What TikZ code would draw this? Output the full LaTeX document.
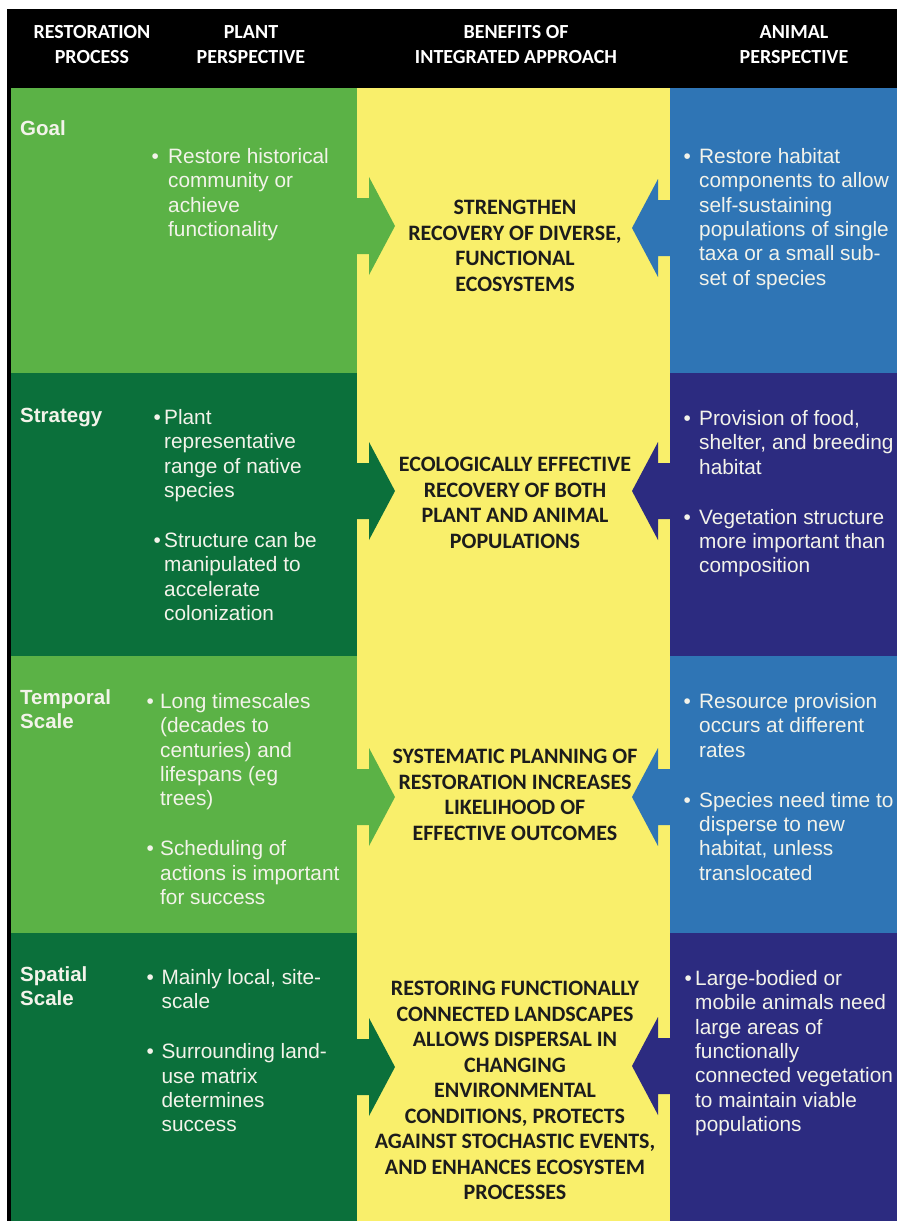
\documentclass[tikz,border=0pt]{standalone}
\usepackage{fontspec}
\setmainfont{Liberation Sans}
\newfontfamily\calfont{Carlito}
\definecolor{lgreen}{HTML}{5BB246}
\definecolor{dgreen}{HTML}{0B703B}
\definecolor{yel}{HTML}{F9EF6B}
\definecolor{lblue}{HTML}{2F75B5}
\definecolor{navy}{HTML}{2C2B80}
\definecolor{txtw}{HTML}{F3F3EA}
\definecolor{txtk}{HTML}{1C1C1C}
\newcommand\bl[1]{\makebox[#1][l]{•}}
\newcommand\ind[1]{\hspace*{#1}}
\newcommand\garrow[2]{\fill[#1] (350,#2-28) -- (369,#2-28) -- (369,#2-49) -- (395,#2) -- (369,#2+49) -- (369,#2+28) -- (350,#2+28) -- cycle;}
\newcommand\barrow[2]{\fill[#1] (677,#2-28) -- (658,#2-28) -- (658,#2-49) -- (632,#2) -- (658,#2+49) -- (658,#2+28) -- (677,#2+28) -- cycle;}
\tikzset{
  hdr/.style={text=white, font=\calfont\bfseries\fontsize{20}{25}\selectfont, align=center, inner sep=0pt, anchor=north},
  side/.style={text=txtw, font=\fontsize{20.8}{24.3}\selectfont, align=left, inner sep=0pt, anchor=north west},
  lab/.style={text=txtw, font=\bfseries\fontsize{20.5}{24}\selectfont, align=left, inner sep=0pt, anchor=north west},
  ben/.style={text=txtk, font=\calfont\bfseries\fontsize{22}{25.5}\selectfont, align=center, inner sep=0pt, anchor=north}
}
\begin{document}
\begin{tikzpicture}[x=1pt,y=-1pt]
\useasboundingbox (0,0) rectangle (897,1221);
\fill[white] (0,0) rectangle (897,1221);
\fill[black] (7,9) rectangle (897,1221);
% plant column
\fill[lgreen] (11,88) rectangle (357,373);
\fill[dgreen] (11,373) rectangle (357,656);
\fill[lgreen] (11,656) rectangle (357,933);
\fill[dgreen] (11,933) rectangle (357,1221);
% benefits column
\fill[yel] (357,88) rectangle (670,1221);
% animal column
\fill[lblue] (670,88) rectangle (897,373);
\fill[navy] (670,373) rectangle (897,656);
\fill[lblue] (670,656) rectangle (897,933);
\fill[navy] (670,933) rectangle (897,1221);
% arrows
\garrow{lgreen}{226}
\garrow{dgreen}{491}
\garrow{lgreen}{797}
\garrow{dgreen}{1067}
\barrow{lblue}{228}
\barrow{navy}{491}
\barrow{lblue}{797}
\barrow{navy}{1066}
% header
\node[hdr] (h1) at (92,20.8) {\strut RESTORATION\\PROCESS};
\node[hdr] (h2) at (251,20.8) {\strut PLANT\\PERSPECTIVE};
\node[hdr] (h3) at (516,20.8) {\strut BENEFITS OF\\INTEGRATED APPROACH};
\node[hdr] (h4) at (794,20.8) {\strut ANIMAL\\PERSPECTIVE};
% row labels
\node[lab] (l1) at (20,118.6) {\strut Goal};
\node[lab] (l2) at (20,405.6) {\strut Strategy};
\node[lab] (l3) at (20,687.6) {\strut Temporal\\Scale};
\node[lab] (l4) at (20,964.6) {\strut Spatial\\Scale};
% plant perspective
\node[side] (p1) at (151.4,146.4) {\strut\bl{16.6pt}Restore historical\\\ind{16.6pt}community or\\\ind{16.6pt}achieve\\\ind{16.6pt}functionality};
\node[side] (p2) at (153.4,407.4) {\strut\bl{10.6pt}Plant\\\ind{10.6pt}representative\\\ind{10.6pt}range of native\\\ind{10.6pt}species\\[25.7pt]\bl{10.6pt}Structure can be\\\ind{10.6pt}manipulated to\\\ind{10.6pt}accelerate\\\ind{10.6pt}colonization};
\node[side] (p3) at (146.4,691.4) {\strut\bl{13.6pt}Long timescales\\\ind{13.6pt}(decades to\\\ind{13.6pt}centuries) and\\\ind{13.6pt}lifespans (eg\\\ind{13.6pt}trees)\\[25.7pt]\bl{13.6pt}Scheduling of\\\ind{13.6pt}actions is important\\\ind{13.6pt}for success};
\node[side] (p4) at (146.4,967.4) {\strut\bl{15pt}Mainly local, site-\\\ind{15pt}scale\\[25.7pt]\bl{15pt}Surrounding land-\\\ind{15pt}use matrix\\\ind{15pt}determines\\\ind{15pt}success};
% benefits
\node[ben] (b1) at (515,196.7) {\strut STRENGTHEN\\RECOVERY OF DIVERSE,\\FUNCTIONAL\\ECOSYSTEMS};
\node[ben] (b2) at (515,453.7) {\strut ECOLOGICALLY EFFECTIVE\\RECOVERY OF BOTH\\PLANT AND ANIMAL\\POPULATIONS};
\node[ben] (b3) at (515,745.7) {\strut SYSTEMATIC PLANNING OF\\RESTORATION INCREASES\\LIKELIHOOD OF\\EFFECTIVE OUTCOMES};
\node[ben] (b4) at (515,977.7) {\strut RESTORING FUNCTIONALLY\\CONNECTED LANDSCAPES\\ALLOWS DISPERSAL IN\\CHANGING\\ENVIRONMENTAL\\CONDITIONS, PROTECTS\\AGAINST STOCHASTIC EVENTS,\\AND ENHANCES ECOSYSTEM\\PROCESSES};
% animal perspective
\node[side] (a1) at (683.4,146.4) {\strut\bl{15.6pt}Restore habitat\\\ind{15.6pt}components to allow\\\ind{15.6pt}self-sustaining\\\ind{15.6pt}populations of single\\\ind{15.6pt}taxa or a small sub-\\\ind{15.6pt}set of species};
\node[side] (a2) at (683.4,408.4) {\strut\bl{15.6pt}Provision of food,\\\ind{15.6pt}shelter, and breeding\\\ind{15.6pt}habitat\\[25.7pt]\bl{15.6pt}Vegetation structure\\\ind{15.6pt}more important than\\\ind{15.6pt}composition};
\node[side] (a3) at (683.4,691.4) {\strut\bl{15.6pt}Resource provision\\\ind{15.6pt}occurs at different\\\ind{15.6pt}rates\\[25.7pt]\bl{15.6pt}Species need time to\\\ind{15.6pt}disperse to new\\\ind{15.6pt}habitat, unless\\\ind{15.6pt}translocated};
\node[side] (a4) at (684.4,968.4) {\strut\bl{10.6pt}Large-bodied or\\\ind{10.6pt}mobile animals need\\\ind{10.6pt}large areas of\\\ind{10.6pt}functionally\\\ind{10.6pt}connected vegetation\\\ind{10.6pt}to maintain viable\\\ind{10.6pt}populations};
\end{tikzpicture}
\end{document}
